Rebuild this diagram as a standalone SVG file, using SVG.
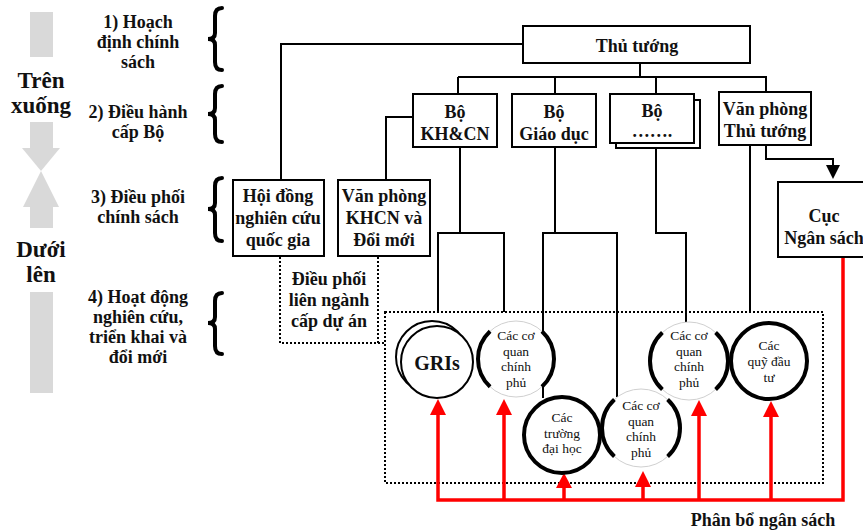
<svg xmlns="http://www.w3.org/2000/svg" width="863" height="531" viewBox="0 0 863 531">
<style>
.b{font-family:"Liberation Serif","Times New Roman",serif;font-weight:bold;font-size:18px;fill:#111;text-anchor:middle}
.s{font-family:"Liberation Serif","Times New Roman",serif;font-size:13.5px;fill:#111;text-anchor:middle}
.box{fill:#fff;stroke:#000;stroke-width:2}
.ln{fill:none;stroke:#000;stroke-width:2}
.dot{fill:none;stroke:#000;stroke-width:2;stroke-dasharray:2 2}
.red{fill:none;stroke:#f00;stroke-width:3.5}
.rh{fill:#f00}
.gray{fill:#d9d9d9}
.brace{fill:none;stroke:#000;stroke-width:4;stroke-linecap:round}
.thick{fill:#fff;stroke:#000;stroke-width:4}
.cq{fill:none;stroke:#000;stroke-width:4;stroke-dasharray:47 86 94 86 47}
.thin{fill:#fff;stroke:#d0d0d0;stroke-width:1}
</style>
<rect width="863" height="531" fill="#fff"/>
<g id="left-arrows">
<rect class="gray" x="30" y="12" width="23" height="45"/>
<rect class="gray" x="30" y="122" width="23" height="26"/>
<polygon class="gray" points="22,148 60,148 41,171"/>
<polygon class="gray" points="41,171 23,207 59,207"/>
<rect class="gray" x="30" y="207" width="23" height="21"/>
<rect class="gray" x="30" y="292" width="23" height="101"/>
<text class="b" style="font-size:23px" x="41" y="88">Trên</text>
<text class="b" style="font-size:23px" x="41" y="113">xuống</text>
<text class="b" style="font-size:23px" x="41" y="257">Dưới</text>
<text class="b" style="font-size:23px" x="41" y="282">lên</text>
</g>
<g id="levels">
<text class="b" x="138" y="28">1) Hoạch</text>
<text class="b" x="138" y="48">định chính</text>
<text class="b" x="138" y="68">sách</text>
<text class="b" x="138" y="118">2) Điều hành</text>
<text class="b" x="138" y="138">cấp Bộ</text>
<text class="b" x="138" y="203">3) Điều phối</text>
<text class="b" x="138" y="223">chính sách</text>
<text class="b" x="138" y="303">4) Hoạt động</text>
<text class="b" x="138" y="323">nghiên cứu,</text>
<text class="b" x="138" y="343">triển khai và</text>
<text class="b" x="138" y="363">đổi mới</text>
<path class="brace" d="M222,8 Q215,8 215,16 L215,33 Q215,39 208,39 Q215,39 215,45 L215,62 Q215,70 222,70"/>
<path class="brace" d="M222,86 Q215,86 215,94 L215,108 Q215,114 208,114 Q215,114 215,120 L215,134 Q215,142 222,142"/>
<path class="brace" d="M222,178 Q215,178 215,186 L215,203 Q215,209 208,209 Q215,209 215,215 L215,233 Q215,241 222,241"/>
<path class="brace" d="M222,293 Q215,293 215,301 L215,317 Q215,323 208,323 Q215,323 215,329 L215,346 Q215,354 222,354"/>
</g>
<g id="connectors">
<polyline class="ln" points="523,44 281,44 281,180"/>
<line class="ln" x1="640" y1="63" x2="640" y2="77"/>
<line class="ln" x1="458" y1="77" x2="767" y2="77"/>
<line class="ln" x1="458" y1="77" x2="458" y2="94"/>
<line class="ln" x1="555" y1="77" x2="555" y2="94"/>
<line class="ln" x1="656" y1="77" x2="656" y2="94"/>
<line class="ln" x1="766" y1="77" x2="766" y2="92"/>
<polyline class="ln" points="413,117 386,117 386,180"/>
<line class="ln" x1="460" y1="147" x2="460" y2="233"/>
<polyline class="ln" points="438,312 438,233 504,233 504,312"/>
<line class="ln" x1="555" y1="147" x2="555" y2="233"/>
<polyline class="ln" points="543,398 543,233 617,233 617,397"/>
<polyline class="ln" points="656,143 656,233 686,233 686,322"/>
<line class="ln" x1="750" y1="145" x2="750" y2="312"/>
<polyline class="ln" points="766,145 766,159 833,159 833,166"/>
<polygon points="826,165 840,165 833,179" fill="#000"/>
<rect class="dot" x="385" y="312" width="438" height="171"/>
<path class="dot" d="M280,257 V343 H385 M378,257 V343"/>
<polyline class="red" points="843,257 843,500 438,500 438,414"/>
<line class="red" x1="504" y1="500" x2="504" y2="414"/>
<line class="red" x1="564" y1="500" x2="564" y2="487"/>
<line class="red" x1="643" y1="500" x2="643" y2="486"/>
<line class="red" x1="699" y1="500" x2="699" y2="414"/>
<line class="red" x1="771" y1="500" x2="771" y2="414"/>
<polygon class="rh" points="438,399 430,415 446,415"/>
<polygon class="rh" points="504,399 496,415 512,415"/>
<polygon class="rh" points="564,473 556,488 572,488"/>
<polygon class="rh" points="643,471 635,487 651,487"/>
<polygon class="rh" points="699,400 691,416 707,416"/>
<polygon class="rh" points="771,401 763,417 779,417"/>
</g>
<g id="thu-tuong">
<rect class="box" x="523" y="26" width="227" height="37"/>
<text class="b" x="637" y="52">Thủ tướng</text>
</g>
<g id="bo-khcn">
<rect class="box" x="413" y="94" width="84" height="53"/>
<text class="b" x="455" y="118">Bộ</text>
<text class="b" x="455" y="140">KH&amp;CN</text>
</g>
<g id="bo-giao-duc">
<rect class="box" x="512" y="94" width="84" height="53"/>
<text class="b" x="554" y="118">Bộ</text>
<text class="b" x="554" y="140">Giáo dục</text>
</g>
<g id="bo-khac">
<rect class="box" x="616" y="100" width="84" height="48"/>
<rect class="box" x="610" y="94" width="84" height="49"/>
<text class="b" x="652" y="117">Bộ</text>
<text class="b" x="652" y="137">…….</text>
</g>
<g id="vp-thu-tuong">
<rect class="box" x="719" y="92" width="92" height="53"/>
<text class="b" x="765" y="115">Văn phòng</text>
<text class="b" x="765" y="137">Thủ tướng</text>
</g>
<g id="cuc-ngan-sach">
<rect class="box" x="778" y="182" width="95" height="75"/>
<text class="b" x="824" y="222">Cục</text>
<text class="b" x="824" y="244">Ngân sách</text>
</g>
<g id="hoi-dong">
<rect class="box" x="233" y="180" width="91" height="76"/>
<text class="b" x="278" y="202">Hội đồng</text>
<text class="b" x="278" y="224">nghiên cứu</text>
<text class="b" x="278" y="246">quốc gia</text>
</g>
<g id="vp-khcn">
<rect class="box" x="338" y="180" width="92" height="76"/>
<text class="b" x="384" y="202">Văn phòng</text>
<text class="b" x="384" y="224">KHCN và</text>
<text class="b" x="384" y="246">Đổi mới</text>
</g>
<g id="dieu-phoi">
<text class="b" x="329" y="285">Điều phối</text>
<text class="b" x="329" y="306">liên ngành</text>
<text class="b" x="329" y="327">cấp dự án</text>
</g>
<g id="gris">
<circle cx="432" cy="357" r="36" fill="#fff" stroke="#000" stroke-width="2"/>
<circle cx="437" cy="362" r="36" fill="#fff" stroke="#000" stroke-width="2"/>
<text class="b" style="font-size:20px" x="437" y="370">GRIs</text>
</g>
<g id="cqcp-1">
<circle class="thin" cx="516" cy="359" r="38"/>
<circle class="cq" cx="516" cy="359" r="38" pathLength="360"/>
<text class="s" x="516" y="340">Các cơ</text>
<text class="s" x="516" y="356">quan</text>
<text class="s" x="516" y="371">chính</text>
<text class="s" x="516" y="387">phủ</text>
</g>
<g id="truong-dh">
<circle class="thick" cx="562" cy="435" r="38"/>
<text class="s" x="562" y="422">Các</text>
<text class="s" x="562" y="438">trường</text>
<text class="s" x="562" y="453">đại học</text>
</g>
<g id="cqcp-2">
<circle class="thin" cx="641" cy="428" r="39"/>
<circle class="cq" cx="641" cy="428" r="39" pathLength="360"/>
<text class="s" x="641" y="410">Các cơ</text>
<text class="s" x="641" y="426">quan</text>
<text class="s" x="641" y="441">chính</text>
<text class="s" x="641" y="457">phủ</text>
</g>
<g id="cqcp-3">
<circle class="thin" cx="689" cy="361" r="39"/>
<circle class="cq" cx="689" cy="361" r="39" pathLength="360"/>
<text class="s" x="689" y="340">Các cơ</text>
<text class="s" x="689" y="356">quan</text>
<text class="s" x="689" y="371">chính</text>
<text class="s" x="689" y="387">phủ</text>
</g>
<g id="quy-dau-tu">
<circle class="thick" cx="769" cy="361" r="38"/>
<text class="s" x="769" y="350">Các</text>
<text class="s" x="769" y="366">quỹ đầu</text>
<text class="s" x="769" y="382">tư</text>
</g>
<g id="phan-bo">
<text class="b" x="763" y="526">Phân bổ ngân sách</text>
</g>
</svg>
